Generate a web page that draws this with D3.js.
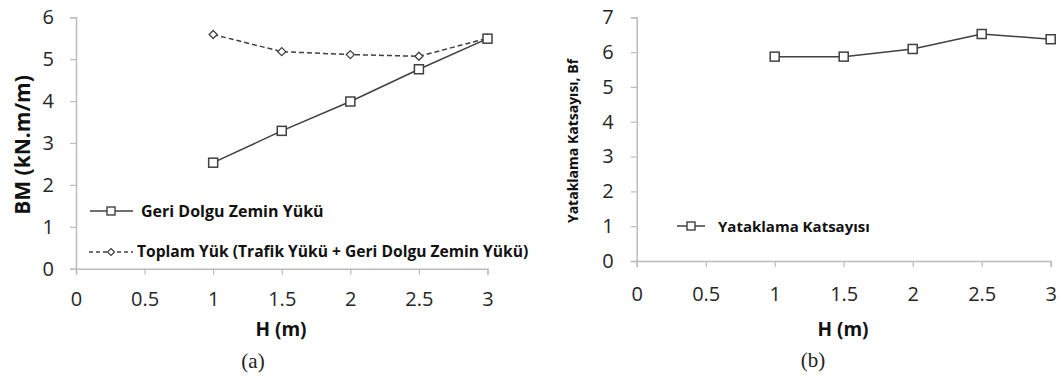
<!DOCTYPE html>
<html>
<head>
<meta charset="utf-8">
<script src="https://cdn.jsdelivr.net/npm/d3@7"></script>
<style>
  html, body { margin: 0; padding: 0; background: #fff; }
  svg { display: block; }
  text { font-family: "Open Sans", "Noto Sans", sans-serif; }
</style>
</head>
<body>
<svg id="chart" width="1061" height="377"></svg>
<script>
// Wall height H (m)
const heights = [1, 1.5, 2, 2.5, 3];
// Bending moment, backfill soil load only (kN.m/m)
const bmBackfill = [2.53, 3.29, 3.99, 4.76, 5.49];
// Bending moment, total load: traffic + backfill (kN.m/m)
const bmTotal = [5.59, 5.18, 5.11, 5.07, 5.50];
// Bedding factor Bf
const beddingFactor = [5.87, 5.87, 6.09, 6.52, 6.37];

const xTicks = [0, 0.5, 1, 1.5, 2, 2.5, 3];
const yTicksA = [0, 1, 2, 3, 4, 5, 6];
const yTicksB = [0, 1, 2, 3, 4, 5, 6, 7];

const labelA = { x: "H (m)", y: "BM (kN.m/m)", panel: "(a)" };
const labelB = { x: "H (m)", y: "Yataklama Katsayısı, Bf", panel: "(b)" };
const legendA = ["Geri Dolgu Zemin Yükü", "Toplam Yük (Trafik Yükü + Geri Dolgu Zemin Yükü)"];
const legendB = ["Yataklama Katsayısı"];

const svg = d3.select("#chart");
const AXIS = "#bcbcbc", INK = "#404040", TXT = "#262626";

function drawAxes(g, x, y, xt, yt, xPad, yPad) {
  const xa = g.append("g")
    .attr("transform", `translate(0,${y.range()[0]})`)
    .call(d3.axisBottom(x).tickValues(xt).tickFormat(d => String(d)).tickSizeOuter(0).tickSize(6).tickPadding(xPad));
  const ya = g.append("g")
    .attr("transform", `translate(${x.range()[0]},0)`)
    .call(d3.axisLeft(y).tickValues(yt).tickFormat(d => String(d)).tickSizeOuter(0).tickSize(6).tickPadding(yPad));
  [xa, ya].forEach(a => {
    a.select(".domain").attr("stroke", AXIS).attr("stroke-width", 1.5);
    a.selectAll(".tick line").attr("stroke", AXIS).attr("stroke-width", 1.2);
    a.selectAll(".tick text").attr("fill", TXT).style("font-size", "20px");
  });
}

function squareMarks(g, x, y, xs, ys, size) {
  g.selectAll(null).data(xs).enter().append("rect")
    .attr("x", (d) => x(d) - size / 2)
    .attr("y", (d, i) => y(ys[i]) - size / 2)
    .attr("width", size).attr("height", size)
    .attr("fill", "#fff").attr("stroke", INK).attr("stroke-width", 1.5);
}

function diamondMarks(g, x, y, xs, ys, r) {
  g.selectAll(null).data(xs).enter().append("path")
    .attr("d", (d, i) => {
      const cx = x(d), cy = y(ys[i]);
      return `M${cx},${cy - r}L${cx + r},${cy}L${cx},${cy + r}L${cx - r},${cy}Z`;
    })
    .attr("fill", "#fff").attr("stroke", INK).attr("stroke-width", 1.3);
}

/* ---------- Panel (a): bending moment ---------- */
{
  const g = svg.append("g");
  const x = d3.scaleLinear().domain([0, 3]).range([76, 487.5]);
  const y = d3.scaleLinear().domain([0, 6]).range([268.7, 17.3]);
  drawAxes(g, x, y, xTicks, yTicksA, 17, 16);

  const line = d3.line().x(d => x(d[0])).y(d => y(d[1]));
  g.append("path").datum(d3.zip(heights, bmTotal)).attr("d", line)
    .attr("fill", "none").attr("stroke", INK).attr("stroke-width", 1.5)
    .attr("stroke-dasharray", "5,3");
  g.append("path").datum(d3.zip(heights, bmBackfill)).attr("d", line)
    .attr("fill", "none").attr("stroke", INK).attr("stroke-width", 1.5);
  diamondMarks(g, x, y, heights, bmTotal, 4);
  squareMarks(g, x, y, heights, bmBackfill, 9);

  // legend
  const lg = g.append("g");
  lg.append("line").attr("x1", 90).attr("x2", 133).attr("y1", 211).attr("y2", 211)
    .attr("stroke", INK).attr("stroke-width", 1.5);
  lg.append("rect").attr("x", 107).attr("y", 207).attr("width", 8).attr("height", 8)
    .attr("fill", "#fff").attr("stroke", INK).attr("stroke-width", 1.4);
  lg.append("text").attr("x", 141).attr("y", 211).attr("dy", "0.35em")
    .style("font-size", "16px").style("font-weight", "700").attr("fill", "#111").text(legendA[0]);
  lg.append("line").attr("x1", 89).attr("x2", 133).attr("y1", 252).attr("y2", 252)
    .attr("stroke", INK).attr("stroke-width", 1.3).attr("stroke-dasharray", "4,3");
  lg.append("path").attr("d", "M111,248.5L114.5,252L111,255.5L107.5,252Z")
    .attr("fill", "#fff").attr("stroke", INK).attr("stroke-width", 1.2);
  lg.append("text").attr("x", 137).attr("y", 252).attr("dy", "0.35em")
    .style("font-size", "15.6px").style("font-weight", "700").attr("fill", "#111").text(legendA[1]);

  // axis titles
  g.append("text").attr("x", 281).attr("y", 329).attr("dy", "0.35em").attr("text-anchor", "middle")
    .style("font-size", "19px").style("font-weight", "700").attr("fill", "#111").text(labelA.x);
  g.append("text").attr("transform", "translate(23,145) rotate(-90)").attr("dy", "0.35em")
    .attr("text-anchor", "middle").style("font-size", "21px").style("font-weight", "700")
    .attr("fill", "#111").text(labelA.y);
  g.append("text").attr("x", 253).attr("y", 361).attr("dy", "0.35em").attr("text-anchor", "middle")
    .style("font-family", "'Liberation Serif', 'DejaVu Serif', serif").style("font-size", "21px")
    .attr("fill", "#222").text(labelA.panel);
}

/* ---------- Panel (b): bedding factor ---------- */
{
  const g = svg.append("g");
  const x = d3.scaleLinear().domain([0, 3]).range([636.7, 1050.7]);
  const y = d3.scaleLinear().domain([0, 7]).range([261, 17.3]);
  drawAxes(g, x, y, xTicks, yTicksB, 20, 17);

  const line = d3.line().x(d => x(d[0])).y(d => y(d[1]));
  g.append("path").datum(d3.zip(heights, beddingFactor)).attr("d", line)
    .attr("fill", "none").attr("stroke", INK).attr("stroke-width", 1.5);
  squareMarks(g, x, y, heights, beddingFactor, 9);

  // legend
  const lg = g.append("g");
  lg.append("line").attr("x1", 677).attr("x2", 705).attr("y1", 226).attr("y2", 226)
    .attr("stroke", INK).attr("stroke-width", 1.5);
  lg.append("rect").attr("x", 687).attr("y", 222).attr("width", 8).attr("height", 8)
    .attr("fill", "#fff").attr("stroke", INK).attr("stroke-width", 1.4);
  lg.append("text").attr("x", 718).attr("y", 227).attr("dy", "0.35em")
    .style("font-size", "15px").style("font-weight", "700").attr("fill", "#111").text(legendB[0]);

  // axis titles
  g.append("text").attr("x", 843).attr("y", 329).attr("dy", "0.35em").attr("text-anchor", "middle")
    .style("font-size", "19px").style("font-weight", "700").attr("fill", "#111").text(labelB.x);
  g.append("text").attr("transform", "translate(573,141) rotate(-90)").attr("dy", "0.35em")
    .attr("text-anchor", "middle").style("font-size", "14px").style("font-weight", "700")
    .attr("fill", "#111").text(labelB.y);
  g.append("text").attr("x", 813).attr("y", 360).attr("dy", "0.35em").attr("text-anchor", "middle")
    .style("font-family", "'Liberation Serif', 'DejaVu Serif', serif").style("font-size", "21px")
    .attr("fill", "#222").text(labelB.panel);
}
</script>
</body>
</html>
